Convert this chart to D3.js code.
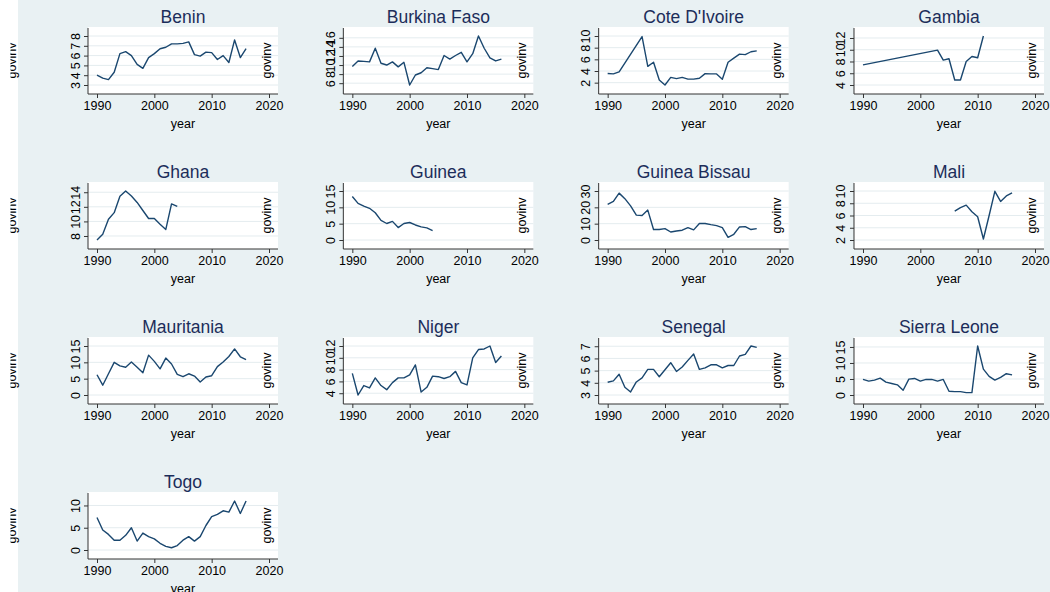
<!DOCTYPE html>
<html>
<head>
<meta charset="utf-8">
<script src="https://cdn.jsdelivr.net/npm/d3@7"></script>
<style>
  html, body { margin: 0; padding: 0; background: #ffffff; }
  svg { display: block; font-family: "Liberation Sans", Arial, sans-serif; }
</style>
</head>
<body>
<svg id="chart" width="1050" height="592"></svg>
<script>
// Government investment (govinv) by country and year
const years9016 = [1990,1991,1992,1993,1994,1995,1996,1997,1998,1999,2000,2001,2002,2003,2004,2005,2006,2007,2008,2009,2010,2011,2012,2013,2014,2015,2016];
const years9004 = [1990,1991,1992,1993,1994,1995,1996,1997,1998,1999,2000,2001,2002,2003,2004];
const yearsCote = [1990,1991,1992,1996,1997,1998,1999,2000,2001,2002,2003,2004,2005,2006,2007,2008,2009,2010,2011,2012,2013,2014,2015,2016];
const yearsGambia = [1990,2003,2004,2005,2006,2007,2008,2009,2010,2011];
const yearsMali = [2006,2007,2008,2009,2010,2011,2012,2013,2014,2015,2016];

const benin = [4.0,3.7,3.55,4.3,6.2,6.4,6.0,5.1,4.7,5.8,6.2,6.7,6.85,7.2,7.2,7.25,7.4,6.1,5.95,6.35,6.3,5.6,6.0,5.3,7.6,5.8,6.7];
const burkina = [9.7,10.9,10.8,10.7,13.7,10.4,10.0,10.7,9.6,10.6,5.6,7.8,8.3,9.4,9.2,9.0,12.1,11.3,12.1,12.8,10.7,12.5,16.4,13.7,11.6,10.9,11.3];
const cote = [3.57,3.5,3.85,9.9,4.8,5.5,2.45,1.6,2.9,2.7,2.9,2.6,2.6,2.75,3.55,3.5,3.5,2.6,5.5,6.2,6.9,6.8,7.3,7.45];
const gambia = [7.43,9.94,8.23,8.46,4.86,4.86,8.0,8.86,8.63,12.34];
const ghana = [7.45,8.23,10.3,11.2,13.44,14.17,13.48,12.6,11.5,10.4,10.4,9.6,8.9,12.4,12.05];
const guinea = [13.3,11.2,10.4,9.7,8.35,6.0,5.05,5.7,3.8,5.05,5.36,4.6,4.0,3.7,2.9];
const guineaBissau = [21.8,23.6,28.7,25.3,20.9,15.2,15.0,18.3,6.4,6.4,7.0,4.9,5.5,6.0,7.6,6.2,10.1,10.1,9.4,8.8,7.6,1.6,3.5,8.0,8.2,6.4,7.0];
const mali = [6.7,7.3,7.7,6.6,5.8,2.16,6.0,9.95,8.3,9.2,9.7];
const mauritania = [6.2,3.0,6.5,10.0,8.9,8.5,10.1,8.5,6.8,12.2,10.3,8.0,11.3,9.5,6.3,5.6,6.5,5.8,4.0,5.5,5.9,8.7,10.1,11.8,14.1,11.7,10.8];
const niger = [7.37,3.7,5.3,4.9,6.6,5.3,4.6,5.8,6.6,6.6,7.1,8.8,4.2,5.0,6.9,6.8,6.5,6.8,7.7,5.8,5.4,10.0,11.4,11.5,12.0,9.2,10.3];
const senegal = [4.05,4.16,4.7,3.63,3.25,4.07,4.4,5.1,5.1,4.5,5.07,5.65,4.93,5.3,5.84,6.36,5.1,5.23,5.48,5.48,5.23,5.42,5.42,6.2,6.33,7.02,6.91];
const sierraLeone = [4.86,4.33,4.65,5.28,4.0,3.6,3.17,1.48,4.96,5.17,4.33,4.86,4.86,4.33,4.86,1.16,1.06,1.06,0.74,0.74,15.3,8.1,5.8,4.65,5.5,6.65,6.3];
const togo = [7.3,4.5,3.5,2.2,2.2,3.3,5.0,2.0,3.8,3.0,2.5,1.5,0.8,0.5,1.0,2.2,3.0,2.0,3.0,5.5,7.5,8.0,8.8,8.5,11.0,8.2,11.0];

const yearTicks = [1990, 2000, 2010, 2020];

const countries = ["Benin","Burkina Faso","Cote D'Ivoire","Gambia","Ghana","Guinea","Guinea Bissau","Mali","Mauritania","Niger","Senegal","Sierra Leone","Togo"];
const seriesYears = [years9016, years9016, yearsCote, yearsGambia, years9004, years9004, years9016, yearsMali, years9016, years9016, years9016, years9016, years9016];
const seriesValues = [benin, burkina, cote, gambia, ghana, guinea, guineaBissau, mali, mauritania, niger, senegal, sierraLeone, togo];
const yTicks = [
  [3,4,5,6,7,8],
  [6,8,10,12,14,16],
  [2,4,6,8,10],
  [4,6,8,10,12],
  [8,10,12,14],
  [0,5,10,15],
  [0,10,20,30],
  [2,4,6,8,10],
  [0,5,10,15],
  [4,6,8,10,12],
  [3,4,5,6,7],
  [0,5,10,15],
  [0,5,10]
];

const BG = "#e9f1f3";
const GRID = "#e4ecef";
const LINE = "#1a476f";
const TITLE = "#1c2d5a";
const FS = 12.5;

const svg = d3.select("#chart");

// Outer graph region
svg.append("rect").attr("x", 18).attr("y", 0).attr("width", 1032).attr("height", 592).attr("fill", BG);

// Panel grid geometry
const colX = c => 88 + c * 255.33;  // left edge of plot region
const rowY = r => 27 + r * 155;     // top edge of plot region
const plotW = 190, plotH = 67;

svg.append("defs").append("clipPath").attr("id", "leftClip")
  .append("rect").attr("x", 10.5).attr("y", 0).attr("width", 40).attr("height", 592);

// Row-level outer y-axis titles (partly cut at the left margin)
const outer = svg.append("g").attr("clip-path", "url(#leftClip)");
for (let r = 0; r < 4; r++) {
  const cy = rowY(r) + plotH / 2;
  outer.append("text")
    .attr("transform", `translate(16,${cy}) rotate(-90)`)
    .attr("text-anchor", "middle")
    .attr("font-size", FS)
    .attr("fill", "#000")
    .text("govinv");
}

countries.forEach((name, i) => {
  const c = i % 4, r = Math.floor(i / 4);
  const left = colX(c), top = rowY(r);
  const g = svg.append("g");

  const xs = d3.scaleLinear().domain([1990, 2020]).range([left + 9, left + 181]);
  const vals = seriesValues[i];
  const ticks = yTicks[i];
  const lo = Math.min(ticks[0], d3.min(vals));
  const hi = Math.max(ticks[ticks.length - 1], d3.max(vals));
  const ys = d3.scaleLinear().domain([lo, hi]).range([top + 58, top + 9]);

  // Plot region
  g.append("rect").attr("x", left).attr("y", top).attr("width", plotW).attr("height", plotH).attr("fill", "#ffffff");

  // Gridlines
  g.selectAll("line.grid").data(ticks).join("line")
    .attr("x1", left).attr("x2", left + plotW)
    .attr("y1", d => ys(d)).attr("y2", d => ys(d))
    .attr("stroke", GRID).attr("stroke-width", 1);

  // Series line
  const pts = seriesYears[i].map((yr, k) => [yr, vals[k]]);
  g.append("path").datum(pts)
    .attr("d", d3.line().x(d => xs(d[0])).y(d => ys(d[1])))
    .attr("fill", "none").attr("stroke", LINE).attr("stroke-width", 1.4).attr("stroke-linejoin", "round");

  // Y axis
  const yAxis = g.append("g").attr("transform", `translate(${left},0)`)
    .call(d3.axisLeft(ys).tickValues(ticks).tickSize(4).tickPadding(3).tickFormat(d3.format("d")));
  yAxis.select(".domain").attr("d", `M0,${top + 1}V${top + plotH}`).attr("stroke", "#333");
  yAxis.selectAll(".tick line").attr("stroke", "#333");
  yAxis.selectAll(".tick text")
    .attr("font-size", FS).attr("fill", "#000")
    .attr("x", null)
    .attr("text-anchor", "middle")
    .attr("transform", "translate(-13,0) rotate(-90)")
    .attr("dy", "0.36em");

  // X axis
  const xAxis = g.append("g").attr("transform", `translate(0,${top + plotH})`)
    .call(d3.axisBottom(xs).tickValues(yearTicks).tickSize(4).tickPadding(3).tickFormat(d3.format("d")));
  xAxis.select(".domain").attr("d", `M${left},0H${left + plotW}`).attr("stroke", "#333");
  xAxis.selectAll(".tick line").attr("stroke", "#333");
  xAxis.selectAll(".tick text").attr("font-size", FS).attr("fill", "#000");

  // Axis titles
  g.append("text").attr("x", left + plotW / 2).attr("y", top + plotH + 34)
    .attr("text-anchor", "middle").attr("font-size", FS).attr("fill", "#000").text("year");
  g.append("text")
    .attr("transform", `translate(${left + 178},${top + plotH / 2}) rotate(-90)`)
    .attr("text-anchor", "middle").attr("dy", "0.36em")
    .attr("font-size", FS).attr("fill", "#000").text("govinv");

  // Panel title
  g.append("text").attr("x", left + plotW / 2).attr("y", top - 4)
    .attr("text-anchor", "middle").attr("font-size", 17.5).attr("fill", TITLE).text(name);
});
</script>
</body>
</html>
